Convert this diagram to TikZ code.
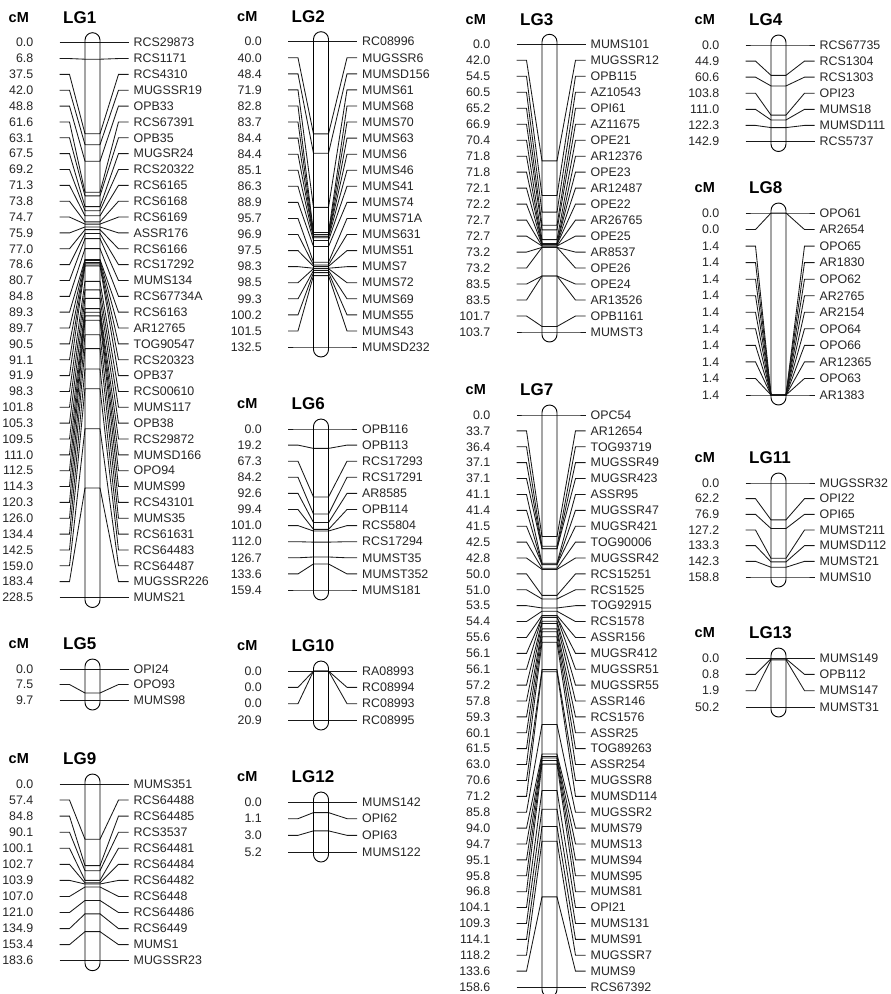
\documentclass[tikz,border=0pt]{standalone}
\usepackage{fontspec}
\setmainfont{Liberation Sans}
\tikzset{
 valtxt/.style={font=\fontsize{12.4}{12.4}\selectfont, inner sep=0pt, text=black!85, anchor=east},
 nametxt/.style={font=\fontsize{12.4}{12.4}\selectfont, inner sep=0pt, text=black!85, anchor=west},
 cmhead/.style={font=\bfseries\fontsize{14.5}{14.5}\selectfont, inner sep=0pt, anchor=west},
 lghead/.style={font=\bfseries\fontsize{17}{17}\selectfont, inner sep=0pt, anchor=west},
 markerline/.style={line width=0.85pt, black!90},
 chrom/.style={line width=0.9pt, black, rounded corners=7.5pt},
}
% xc, y0, ylast, cmax, n, title, list
\newcommand\linkgroup[7]{%
 \node[cmhead] (cm-#6) at ({#1-84},{#2-25}) {cM};
 \node[lghead] (t-#6) at ({#1-29.5},{#2-25}) {#6};
 \foreach \cmv/\nm [count=\i from 0] in {#7} {
   \pgfmathsetmacro\yr{#2+(\i/(#5-1))*(#3-#2)}
   \pgfmathsetmacro\ym{#2+(\cmv/#4)*(#3-#2)}
   \node[valtxt] (v-#6-\i) at ({#1-59},\yr) {\cmv};
   \node[nametxt] (n-#6-\i) at ({#1+41},\yr) {\nm};
   \draw[markerline] ({#1-33},\yr) -- ({#1-23},\yr) -- ({#1-7.5},\ym) -- ({#1+7.5},\ym) -- ({#1+26},\yr) -- ({#1+36},\yr);
 }
 \draw[chrom] ({#1-7.5},{#2-10}) rectangle ({#1+7.5},{#3+10});
}
\begin{document}
\begin{tikzpicture}[x=1pt,y=-1pt]
\fill[white] (0,0) rectangle (891,994);
\useasboundingbox (0,0) rectangle (891,994);

\linkgroup{92.5}{42.7}{597.5}{228.5}{36}{LG1}{0.0/RCS29873,6.8/RCS1171,37.5/RCS4310,42.0/MUGSSR19,48.8/OPB33,61.6/RCS67391,63.1/OPB35,67.5/MUGSR24,69.2/RCS20322,71.3/RCS6165,73.8/RCS6168,74.7/RCS6169,75.9/ASSR176,77.0/RCS6166,78.6/RCS17292,80.7/MUMS134,84.8/RCS67734A,89.3/RCS6163,89.7/AR12765,90.5/TOG90547,91.1/RCS20323,91.9/OPB37,98.3/RCS00610,101.8/MUMS117,105.3/OPB38,109.5/RCS29872,111.0/MUMSD166,112.5/OPO94,114.3/MUMS99,120.3/RCS43101,126.0/MUMS35,134.4/RCS61631,142.5/RCS64483,159.0/RCS64487,183.4/MUGSSR226,228.5/MUMS21}

\linkgroup{321}{41.7}{347}{132.5}{20}{LG2}{0.0/RC08996,40.0/MUGSSR6,48.4/MUMSD156,71.9/MUMS61,82.8/MUMS68,83.7/MUMS70,84.4/MUMS63,84.4/MUMS6,85.1/MUMS46,86.3/MUMS41,88.9/MUMS74,95.7/MUMS71A,96.9/MUMS631,97.5/MUMS51,98.3/MUMS7,98.5/MUMS72,99.3/MUMS69,100.2/MUMS55,101.5/MUMS43,132.5/MUMSD232}

\linkgroup{549.5}{44.3}{332}{103.7}{19}{LG3}{0.0/MUMS101,42.0/MUGSSR12,54.5/OPB115,60.5/AZ10543,65.2/OPI61,66.9/AZ11675,70.4/OPE21,71.8/AR12376,71.8/OPE23,72.1/AR12487,72.2/OPE22,72.7/AR26765,72.7/OPE25,73.2/AR8537,73.2/OPE26,83.5/OPE24,83.5/AR13526,101.7/OPB1161,103.7/MUMST3}

\linkgroup{778.5}{45}{141.5}{142.9}{7}{LG4}{0.0/RCS67735,44.9/RCS1304,60.6/RCS1303,103.8/OPI23,111.0/MUMS18,122.3/MUMSD111,142.9/RCS5737}

\linkgroup{778.5}{213}{395}{1.4}{12}{LG8}{0.0/OPO61,0.0/AR2654,1.4/OPO65,1.4/AR1830,1.4/OPO62,1.4/AR2765,1.4/AR2154,1.4/OPO64,1.4/OPO66,1.4/AR12365,1.4/OPO63,1.4/AR1383}

\linkgroup{92.5}{669}{700}{9.7}{3}{LG5}{0.0/OPI24,7.5/OPO93,9.7/MUMS98}

\linkgroup{92.5}{784}{960.7}{183.6}{12}{LG9}{0.0/MUMS351,57.4/RCS64488,84.8/RCS64485,90.1/RCS3537,100.1/RCS64481,102.7/RCS64484,103.9/RCS64482,107.0/RCS6448,121.0/RCS64486,134.9/RCS6449,153.4/MUMS1,183.6/MUGSSR23}

\linkgroup{321}{429}{590}{159.4}{11}{LG6}{0.0/OPB116,19.2/OPB113,67.3/RCS17293,84.2/RCS17291,92.6/AR8585,99.4/OPB114,101.0/RCS5804,112.0/RCS17294,126.7/MUMST35,133.6/MUMST352,159.4/MUMS181}

\linkgroup{321}{671}{720}{20.9}{4}{LG10}{0.0/RA08993,0.0/RC08994,0.0/RC08993,20.9/RC08995}

\linkgroup{321}{802}{852}{5.2}{4}{LG12}{0.0/MUMS142,1.1/OPI62,3.0/OPI63,5.2/MUMS122}

\linkgroup{549.5}{415}{987}{158.6}{37}{LG7}{0.0/OPC54,33.7/AR12654,36.4/TOG93719,37.1/MUGSSR49,37.1/MUGSR423,41.1/ASSR95,41.4/MUGSSR47,41.5/MUGSR421,42.5/TOG90006,42.8/MUGSSR42,50.0/RCS15251,51.0/RCS1525,53.5/TOG92915,54.4/RCS1578,55.6/ASSR156,56.1/MUGSR412,56.1/MUGSSR51,57.2/MUGSSR55,57.8/ASSR146,59.3/RCS1576,60.1/ASSR25,61.5/TOG89263,63.0/ASSR254,70.6/MUGSSR8,71.2/MUMSD114,85.8/MUGSSR2,94.0/MUMS79,94.7/MUMS13,95.1/MUMS94,95.8/MUMS95,96.8/MUMS81,104.1/OPI21,109.3/MUMS131,114.1/MUMS91,118.2/MUGSSR7,133.6/MUMS9,158.6/RCS67392}

\linkgroup{778.5}{483}{577}{158.8}{7}{LG11}{0.0/MUGSSR32,62.2/OPI22,76.9/OPI65,127.2/MUMST211,133.3/MUMSD112,142.3/MUMST21,158.8/MUMS10}

\linkgroup{778.5}{658}{707}{50.2}{4}{LG13}{0.0/MUMS149,0.8/OPB112,1.9/MUMS147,50.2/MUMST31}
\end{tikzpicture}
\end{document}
